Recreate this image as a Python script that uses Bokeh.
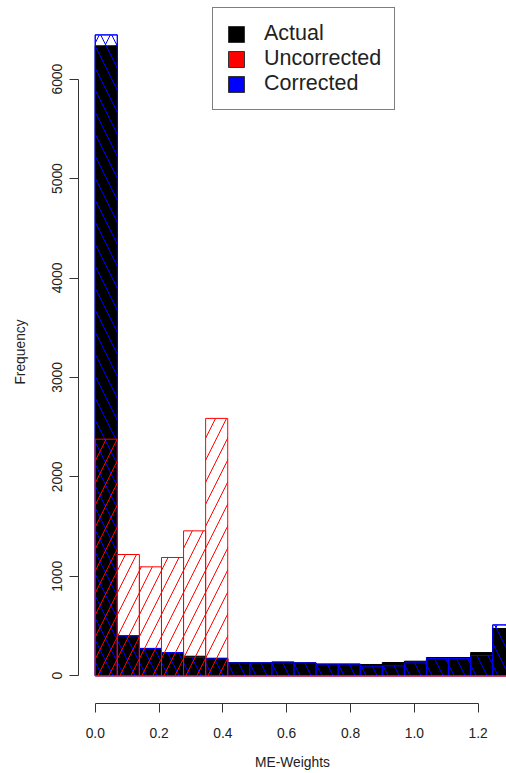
from bokeh.plotting import figure
from bokeh.models import Range1d, FixedTicker, PrintfTickFormatter, Legend, LegendItem, ColumnDataSource
from bokeh.embed import file_html
from bokeh.resources import INLINE

# ---- data ----
bin_width = 0.0692
n_bins = 19
actual = [6335, 400, 274, 233, 196, 176, 131, 129, 139, 129, 116, 116, 113, 133, 146, 183, 183, 233, 475]
corrected = [6445, 400, 274, 233, 183, 170, 129, 129, 129, 129, 116, 116, 96, 99, 129, 173, 173, 203, 511]
uncorrected = [2379, 1219, 1095, 1189, 1457, 2588, 0, 0, 0, 0, 0, 0, 0, 0, 0, 0, 0, 0, 0]
series_names = ["Actual", "Uncorrected", "Corrected"]
series_colors = ["black", "red", "blue"]
x_ticks = [0.0, 0.2, 0.4, 0.6, 0.8, 1.0, 1.2]
y_ticks = [0, 1000, 2000, 3000, 4000, 5000, 6000]

lefts = [i * bin_width for i in range(n_bins)]
rights = [(i + 1) * bin_width for i in range(n_bins)]
zeros = [0] * n_bins

FONT = "Liberation Sans"
FS = "13.8px"
TXT = "#222222"
HS = 22

p = figure(width=506, height=773, output_backend="svg", toolbar_location=None,
           x_range=Range1d(-0.0524, 1.2888), y_range=Range1d(-279.5, 6791),
           min_border_left=78, min_border_right=0, min_border_top=0, min_border_bottom=70)
p.outline_line_color = None
p.xgrid.visible = False
p.ygrid.visible = False
p.background_fill_color = "white"
p.border_fill_color = "white"

src_c = ColumnDataSource(dict(left=lefts, right=rights, top=corrected, bottom=zeros))
src_a = ColumnDataSource(dict(left=lefts, right=rights, top=actual, bottom=zeros))
src_u = ColumnDataSource(dict(left=lefts, right=rights, top=uncorrected, bottom=zeros))

# corrected, first pass (45 degree lines)
p.quad(left="left", right="right", top="top", bottom="bottom", source=src_c,
       fill_color=None, line_color="blue", line_width=1,
       hatch_pattern="/", hatch_color="blue", hatch_scale=HS, hatch_weight=1)
# actual, solid black
p.quad(left="left", right="right", top="top", bottom="bottom", source=src_a,
       fill_color="black", line_color="black", line_width=1)
# corrected, second pass (135 degree lines)
p.quad(left="left", right="right", top="top", bottom="bottom", source=src_c,
       fill_color=None, line_color="blue", line_width=1,
       hatch_pattern="\\", hatch_color="blue", hatch_scale=HS, hatch_weight=1)
# uncorrected, red 45 degree lines
p.quad(left="left", right="right", top="top", bottom="bottom", source=src_u,
       fill_color=None, line_color="red", line_width=1,
       hatch_pattern="/", hatch_color="red", hatch_scale=HS, hatch_weight=1)
# bottom edges of the uncorrected bins (visible for empty bins)
p.segment(x0="left", x1="right", y0="bottom", y1="bottom", source=src_u,
          line_color="red", line_width=1)

# axes
p.xaxis.ticker = FixedTicker(ticks=x_ticks)
p.xaxis.formatter = PrintfTickFormatter(format="%.1f")
p.xaxis.bounds = (x_ticks[0], x_ticks[-1])
p.yaxis.ticker = FixedTicker(ticks=y_ticks)
p.yaxis.formatter = PrintfTickFormatter(format="%d")
p.yaxis.bounds = (y_ticks[0], y_ticks[-1])
p.yaxis.major_label_orientation = "vertical"
for ax in (p.xaxis[0], p.yaxis[0]):
    ax.axis_line_color = "#333333"
    ax.major_tick_line_color = "#333333"
    ax.major_tick_out = 9
    ax.major_tick_in = 0
    ax.minor_tick_line_color = None
    ax.major_label_text_font = FONT
    ax.major_label_text_font_size = FS
    ax.major_label_text_color = TXT
    ax.axis_label_text_font = FONT
    ax.axis_label_text_font_size = FS
    ax.axis_label_text_font_style = "normal"
    ax.axis_label_text_color = TXT
p.xaxis.axis_label = "ME-Weights"
p.yaxis.axis_label = "Frequency"
p.xaxis.major_label_standoff = 15
p.xaxis.axis_label_standoff = 14
p.yaxis.major_label_standoff = 7
p.yaxis.axis_label_standoff = 22

# legend with solid swatches (one off-data row so the swatch is styled)
nan = float("nan")
items = []
for name, col in zip(series_names, series_colors):
    sw = ColumnDataSource(dict(left=[nan], right=[nan], top=[nan], bottom=[nan]))
    r = p.quad(left="left", right="right", top="top", bottom="bottom", source=sw,
               fill_color=col, line_color="#333333", line_width=1)
    items.append(LegendItem(label=name, renderers=[r]))
legend = Legend(items=items, location=(134, 593))
legend.label_text_font = FONT
legend.label_text_font_size = "21.5px"
legend.label_text_color = TXT
legend.glyph_width = 20
legend.glyph_height = 20
legend.label_standoff = 18
legend.spacing = 0
legend.padding = 13
legend.margin = 0
legend.border_line_color = "black"
legend.border_line_width = 1
legend.background_fill_color = "white"
legend.background_fill_alpha = 1
p.add_layout(legend, "center")

open("out.html", "w").write(file_html(p, INLINE))
